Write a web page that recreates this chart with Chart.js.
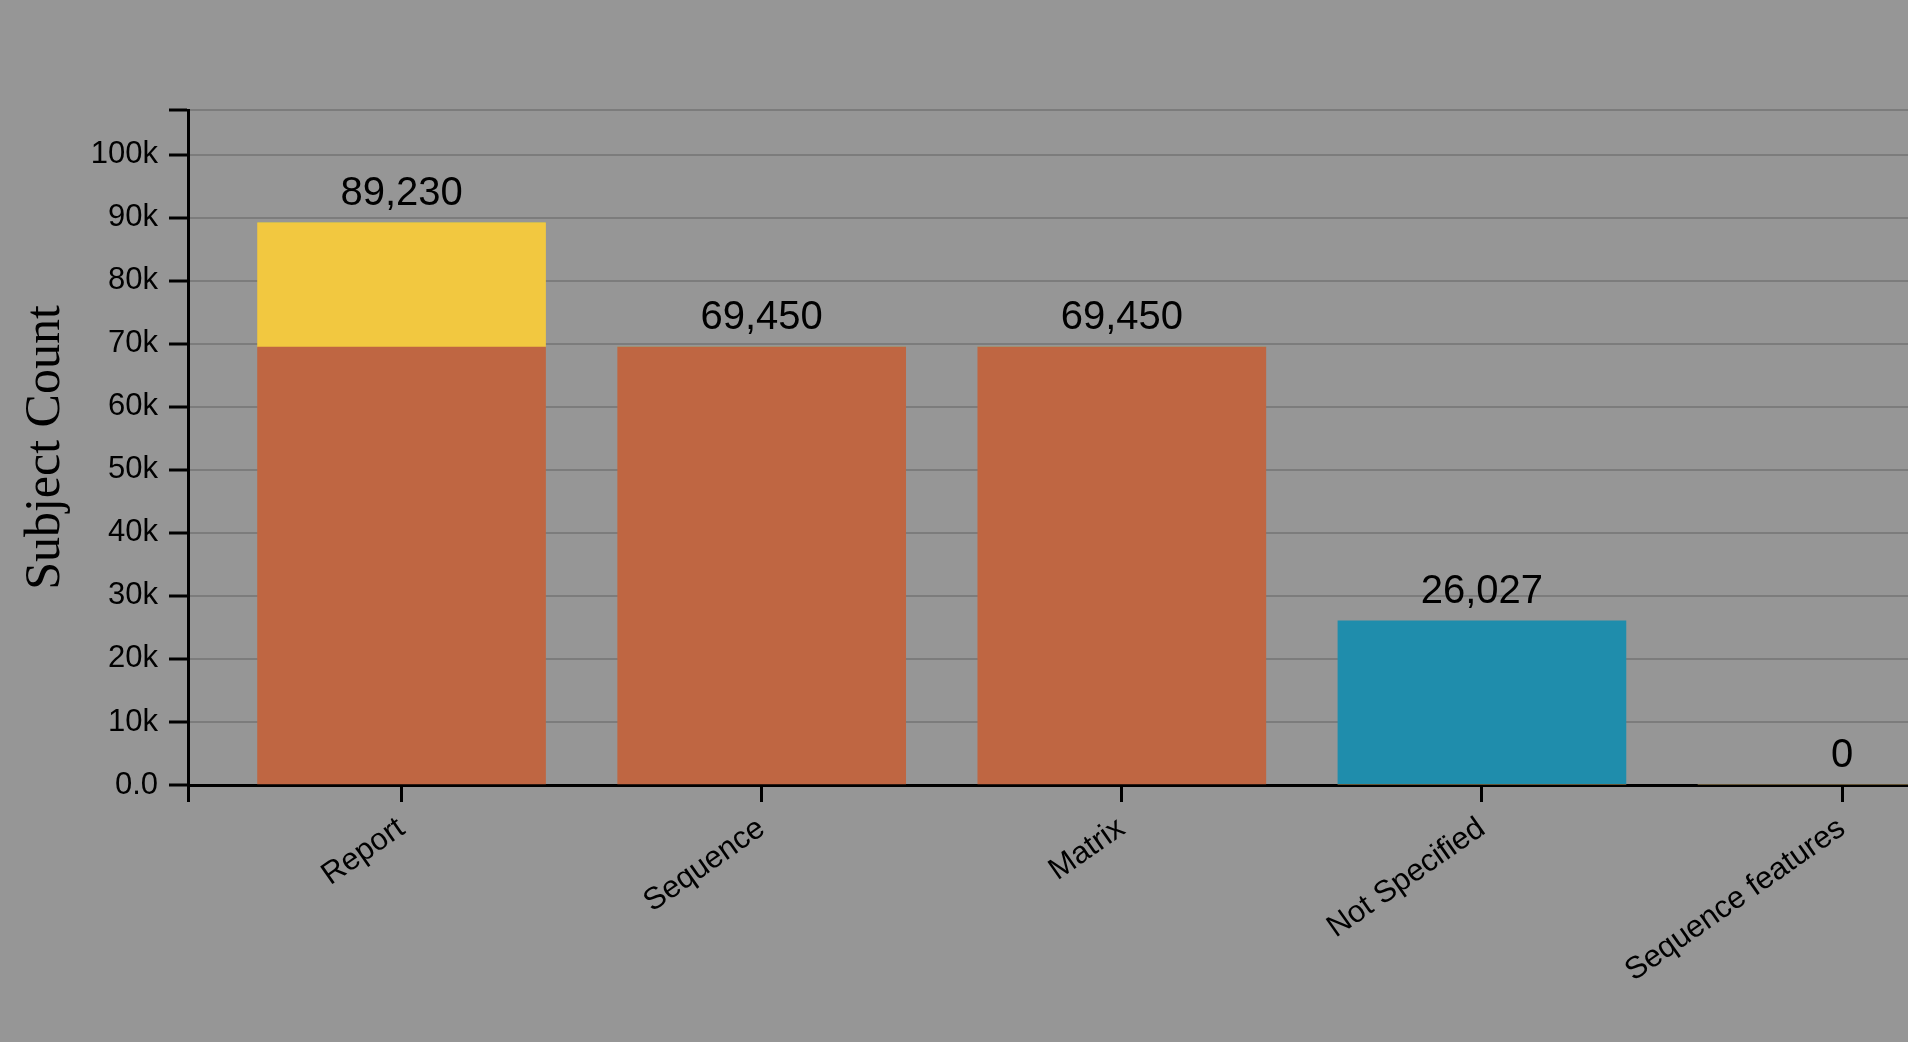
<!DOCTYPE html>
<html>
<head>
<meta charset="utf-8">
<script src="https://cdn.jsdelivr.net/npm/chart.js@4.4.1/dist/chart.umd.min.js"></script>
<style>
  html, body { margin: 0; padding: 0; background: #969696; overflow: hidden; }
  #wrap { width: 2090px; height: 1042px; }
</style>
</head>
<body>
<div id="wrap"><canvas id="chart" width="2090" height="1042"></canvas></div>
<script>
// categorias e séries
const categorias = ['Report', 'Sequence', 'Matrix', 'Not Specified', 'Sequence features'];
const serieLaranja = [69450, 69450, 69450, 0, 0];
const serieAmarela = [19780, 0, 0, 0, 0];
const serieAzul = [0, 0, 0, 26027, 0];
const ticksY = [0, 10000, 20000, 30000, 40000, 50000, 60000, 70000, 80000, 90000, 100000];

const totais = categorias.map((c, i) => serieLaranja[i] + serieAmarela[i] + serieAzul[i]);
const yMax = Math.max(...totais) * 1.2;
const xMin = -0.593;
const xMax = 4.607;

const fonteSans = 'Liberation Sans, Arial, Helvetica, sans-serif';

function pontos(serie) {
    return serie.map((v, i) => ({ x: i, y: v }));
}

// rótulos de total acima das barras
const rotulosTotais = {
    id: 'rotulosTotais',
    afterDatasetsDraw(chart) {
        const ctx = chart.ctx;
        const sx = chart.scales.x;
        const sy = chart.scales.y;
        ctx.save();
        ctx.font = '40px ' + fonteSans;
        ctx.fillStyle = '#000';
        ctx.textAlign = 'center';
        ctx.textBaseline = 'alphabetic';
        totais.forEach((t, i) => {
            ctx.fillText(t.toLocaleString('en-US'), sx.getPixelForValue(i), sy.getPixelForValue(t) - 18);
        });
        ctx.restore();
    }
};

new Chart(document.getElementById('chart'), {
    type: 'bar',
    data: {
        datasets: [
            { data: pontos(serieLaranja), backgroundColor: '#bf6642' },
            { data: pontos(serieAmarela), backgroundColor: '#f2c840' },
            { data: pontos(serieAzul), backgroundColor: '#1f8dac' }
        ]
    },
    options: {
        responsive: false,
        animation: false,
        devicePixelRatio: 1,
        barThickness: 288,
        layout: { padding: { top: 110, right: 0, left: 0, bottom: 0 } },
        plugins: {
            legend: { display: false },
            tooltip: { enabled: false }
        },
        scales: {
            x: {
                type: 'linear',
                stacked: true,
                offset: false,
                min: xMin,
                max: xMax,
                afterBuildTicks(scale) {
                    scale.ticks = [xMin, 0, 1, 2, 3, 4, xMax].map(v => ({ value: v }));
                },
                afterFit(scale) { scale.height = 1042 - 110 - 675; },
                grid: {
                    offset: false,
                    drawOnChartArea: false,
                    drawTicks: true,
                    tickLength: 17,
                    tickColor: '#000',
                    tickWidth: 3
                },
                border: { color: '#000', width: 3 },
                ticks: {
                    autoSkip: false,
                    minRotation: 35,
                    maxRotation: 35,
                    padding: 8,
                    color: '#000',
                    font: { family: fonteSans, size: 31 },
                    callback: v => Number.isInteger(v) ? categorias[v] : ''
                }
            },
            y: {
                stacked: true,
                min: 0,
                max: yMax,
                afterBuildTicks(scale) {
                    scale.ticks = ticksY.concat([yMax]).map(v => ({ value: v }));
                },
                afterFit(scale) { scale.width = 188; },
                grid: {
                    color: '#7c7c7c',
                    lineWidth: 2,
                    tickLength: 19,
                    tickColor: '#000',
                    tickWidth: 3
                },
                border: { color: '#000', width: 3 },
                ticks: {
                    padding: 11,
                    color: '#000',
                    font: { family: fonteSans, size: 31 },
                    callback: v => v === yMax ? '' : (v === 0 ? '0.0' : (v / 1000) + 'k')
                },
                title: {
                    display: true,
                    text: 'Subject Count',
                    color: '#000',
                    font: { family: 'Liberation Serif, Times New Roman, serif', size: 50 },
                    padding: { top: 16, bottom: 0 }
                }
            }
        }
    },
    plugins: [rotulosTotais]
});
</script>
</body>
</html>
